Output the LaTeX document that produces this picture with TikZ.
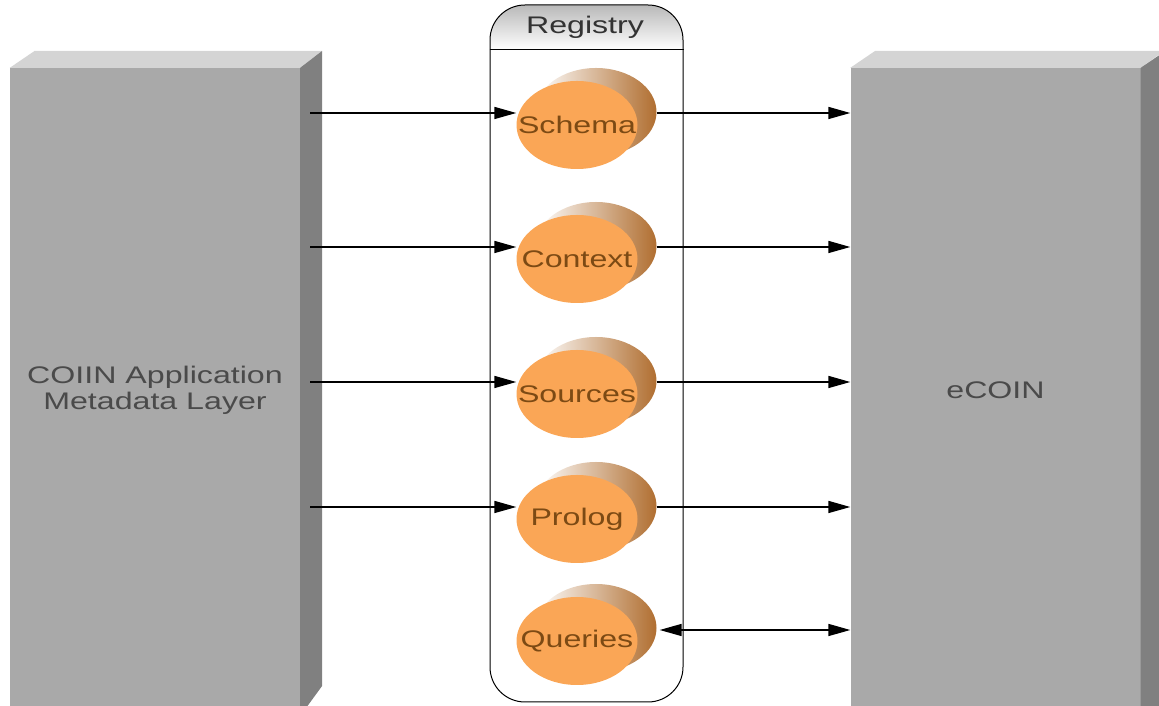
\documentclass[tikz,border=0pt]{standalone}
\usepackage{fontspec}
\newfontfamily\diagfont{Liberation Sans}[FakeStretch=1.34]
\usepackage{tikz}
\usetikzlibrary{positioning,arrows.meta,shapes.geometric,calc}
\definecolor{boxfront}{HTML}{A9A9A9}
\definecolor{boxtop}{HTML}{D4D4D4}
\definecolor{boxside}{HTML}{808080}
\definecolor{boxtext}{HTML}{4A4A4A}
\definecolor{ellfill}{HTML}{FAA656}
\definecolor{ellback}{HTML}{B06E30}
\definecolor{elltext}{HTML}{7C4A14}
\tikzstyle{gbox}=[rectangle, fill=boxfront, draw=none, minimum width=290pt
, minimum height=644pt, text=boxtext, align=center, font=\diagfont\fontsize{24}{26}\selectfont]
\tikzstyle{ell}=[ellipse, fill=ellfill, draw=none, minimum width=121pt, minimum height=88pt
, inner xsep=-25pt, inner ysep=0pt, text=elltext, font=\diagfont\fontsize{24}{26}\selectfont]
\tikzstyle{ellb}=[ellipse, left color=white, right color=ellback, draw=none, minimum width=121pt
, minimum height=88pt, inner sep=0pt]
\tikzstyle{conn}=[-{Triangle[length=22pt,width=12pt]}, line width=1.6pt, black]
\tikzstyle{dconn}=[{Triangle[length=22pt,width=12pt]}-{Triangle[length=22pt,width=12pt]}, line width=1.6pt, black]

\begin{document}
\begin{tikzpicture}[x=1pt, y=1pt]
    \useasboundingbox (0,0) rectangle (1159,706);

% Layers
    \node (coiin) [gbox] at (155,316) {COIIN Application\\Metadata Layer};
    \fill[boxtop] (coiin.north west) -- ++(25,17) -- ++(287,0) -- (coiin.north east) -- cycle;
    \fill[boxside] (coiin.north east) -- ++(22,17) -- ++(0,-635) -- (coiin.east |- 0,-10) -- cycle;

    \node (ecoin) [gbox] at (995.5,316) {eCOIN};
    \fill[boxtop] (ecoin.north west) -- ++(25,17) -- ++(289,0) -- (ecoin.north east) -- cycle;
    \fill[boxside] (ecoin.north east) -- ++(25,17) -- ++(0,-670) -- (ecoin.east |- 0,-10) -- cycle;

% Registry
    \begin{scope}
    \clip[rounded corners=35pt] (490,4) rectangle (683,701);
    \shade[top color=gray!55, bottom color=white] (490,656) rectangle (683,701);
    \end{scope}
    \node (reg) [rectangle, rounded corners=35pt, draw=black, line width=1pt, minimum width=193pt
    , minimum height=697pt] at (586.5,352.5) {};
    \draw[line width=1pt] (reg.west |- 0,656) -- (reg.east |- 0,656);
    \node (regt) [font=\diagfont\fontsize{24}{26}\selectfont, text=black!80] at (585,679) {Registry};

    \node (schb) [ellb] at (596,594) {};
    \node (sch) [ell] at (577,581) {Schema};
    \node (ctxb) [ellb] at (596,460) {};
    \node (ctx) [ell] at (577,447) {Context};
    \node (srcb) [ellb] at (596,325) {};
    \node (src) [ell] at (577,312) {Sources};
    \node (prob) [ellb] at (596,200) {};
    \node (pro) [ell] at (577,187) {Prolog};
    \node (qryb) [ellb] at (596,78) {};
    \node (qry) [ell] at (577,65) {Queries};

% lines
   \draw[conn] ($(coiin.east |- sch.west)+(10,12)$) -- ($(sch.west)+(0,12)$);
   \draw[conn] ($(coiin.east |- ctx.west)+(10,12)$) -- ($(ctx.west)+(0,12)$);
   \draw[conn] ($(coiin.east |- src.west)+(10,12)$) -- ($(src.west)+(0,12)$);
   \draw[conn] ($(coiin.east |- pro.west)+(10,12)$) -- ($(pro.west)+(0,12)$);

   \draw[conn] ($(schb.east)+(0,-1)$) -- ($(ecoin.west |- sch.east)+(0,12)$);
   \draw[conn] ($(ctxb.east)+(0,-1)$) -- ($(ecoin.west |- ctx.east)+(0,12)$);
   \draw[conn] ($(srcb.east)+(0,-1)$) -- ($(ecoin.west |- src.east)+(0,12)$);
   \draw[conn] ($(prob.east)+(0,-1)$) -- ($(ecoin.west |- pro.east)+(0,12)$);
   \draw[dconn] ($(qryb.east)+(3,-2)$) -- ($(ecoin.west |- qry.east)+(0,11)$);
\end{tikzpicture}
\end{document}
